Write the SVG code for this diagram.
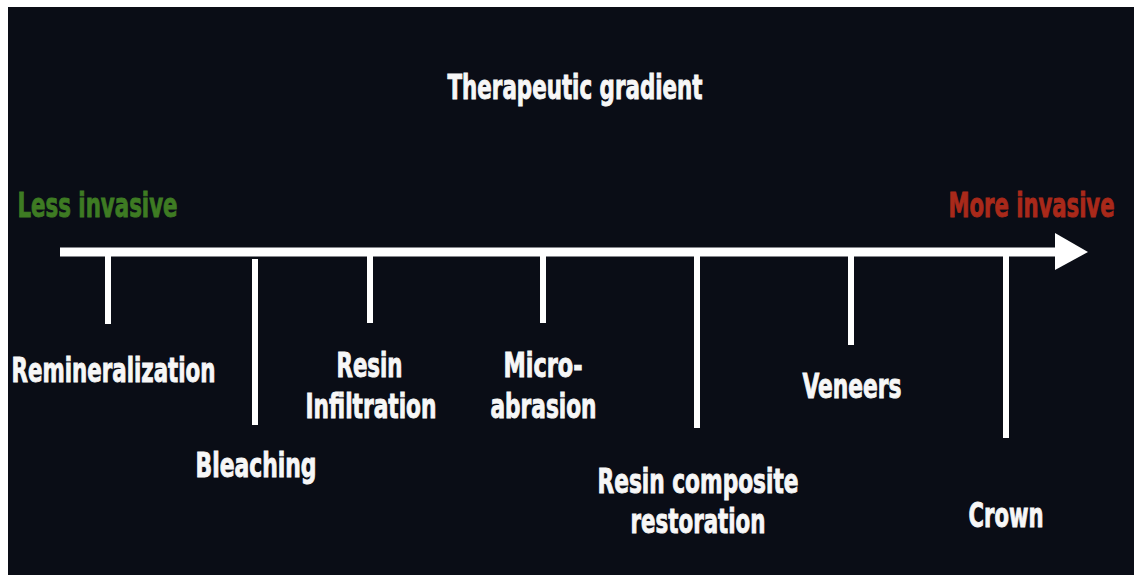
<svg xmlns="http://www.w3.org/2000/svg" width="1134" height="575" viewBox="0 0 1134 575">
<style>
.t{font-family:"Liberation Sans Narrow","DejaVu Sans Condensed","Liberation Sans",sans-serif;font-weight:bold;font-size:34px;fill:#f7f7f7;stroke:#f7f7f7;stroke-width:0.9;text-anchor:middle}
.g{fill:#3e7b23;stroke:#3e7b23}
.r{fill:#a9291a;stroke:#a9291a}
.tk{fill:#ffffff}
</style>
<rect x="0" y="0" width="1134" height="575" fill="#ffffff"/>
<rect x="8" y="7" width="1126" height="568" fill="#0a0d16"/>
<g id="title"><text class="t" x="575" y="99" textLength="255" lengthAdjust="spacingAndGlyphs">Therapeutic gradient</text></g>
<g id="less"><text class="t g" x="97.5" y="217" textLength="160" lengthAdjust="spacingAndGlyphs">Less invasive</text></g>
<g id="more"><text class="t r" x="1031.5" y="217" textLength="166" lengthAdjust="spacingAndGlyphs">More invasive</text></g>
<g id="connectors">
<rect class="tk" x="60" y="247.5" width="997" height="9"/>
<polygon class="tk" points="1055,233 1088,252 1055,270"/>
<rect class="tk" x="105" y="256" width="6" height="68"/>
<rect class="tk" x="252" y="259" width="6" height="166"/>
<rect class="tk" x="367" y="256" width="6" height="67"/>
<rect class="tk" x="540" y="256" width="6" height="67"/>
<rect class="tk" x="694" y="256" width="6" height="172"/>
<rect class="tk" x="848" y="256" width="6" height="89"/>
<rect class="tk" x="1003" y="256" width="6" height="182"/>
</g>
<g id="remineralization"><text class="t" x="113.5" y="382" textLength="204" lengthAdjust="spacingAndGlyphs">Remineralization</text></g>
<g id="bleaching"><text class="t" x="256" y="477" textLength="121" lengthAdjust="spacingAndGlyphs">Bleaching</text></g>
<g id="resin-infiltration"><text class="t" x="369.5" y="377" textLength="66" lengthAdjust="spacingAndGlyphs">Resin</text><text class="t" x="371" y="418" textLength="131" lengthAdjust="spacingAndGlyphs">Infiltration</text></g>
<g id="microabrasion"><text class="t" x="543" y="377" textLength="79" lengthAdjust="spacingAndGlyphs">Micro-</text><text class="t" x="543.5" y="418" textLength="106" lengthAdjust="spacingAndGlyphs">abrasion</text></g>
<g id="resin-composite"><text class="t" x="698" y="493" textLength="201" lengthAdjust="spacingAndGlyphs">Resin composite</text><text class="t" x="698" y="533" textLength="135" lengthAdjust="spacingAndGlyphs">restoration</text></g>
<g id="veneers"><text class="t" x="852" y="398" textLength="99" lengthAdjust="spacingAndGlyphs">Veneers</text></g>
<g id="crown"><text class="t" x="1006" y="527" textLength="75" lengthAdjust="spacingAndGlyphs">Crown</text></g>
</svg>
